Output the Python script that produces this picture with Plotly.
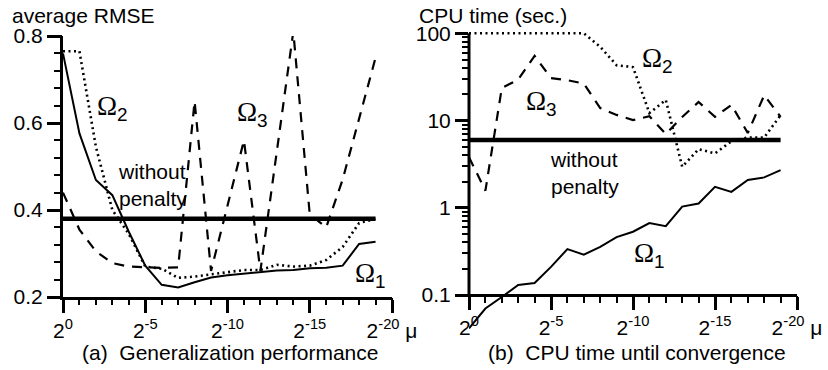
import math
import plotly.graph_objects as go

# ---------------- data ----------------
# x position = exponent magnitude k, where mu = 2^-k
mu_exp = [0, 1, 2, 3, 4, 5, 6, 7, 8, 9, 10, 11, 12, 13, 14, 15, 16, 17, 18, 19]

# (a) generalization performance (average RMSE)
rmse_omega1 = [0.76, 0.576, 0.469, 0.434, 0.35, 0.272, 0.228, 0.222, 0.234, 0.245,
               0.25, 0.254, 0.257, 0.261, 0.262, 0.266, 0.267, 0.272, 0.322, 0.327]
rmse_omega2 = [0.765, 0.765, 0.545, 0.40, 0.345, 0.27, 0.265, 0.244, 0.247, 0.252,
               0.258, 0.262, 0.262, 0.274, 0.27, 0.272, 0.285, 0.315, 0.37, 0.38]
rmse_omega3 = [0.44, 0.355, 0.305, 0.278, 0.27, 0.268, 0.267, 0.268, 0.65, 0.26,
               0.41, 0.56, 0.26, 0.53, 0.81, 0.39, 0.36, 0.47, 0.61, 0.75]
rmse_no_penalty = [0.38] * 20

# (b) CPU time until convergence (sec.)
cpu_omega1 = [0.0414, 0.070, 0.095, 0.130, 0.137, 0.210, 0.336, 0.290, 0.357, 0.461,
              0.531, 0.667, 0.616, 1.03, 1.12, 1.74, 1.52, 2.08, 2.23, 2.70]
cpu_omega2 = [100, 100, 100, 100, 100, 100, 100, 100, 70, 43,
              41, 12.2, 17.2, 2.95, 4.7, 4.2, 5.8, 6.4, 6.4, 11.5]
cpu_omega3 = [3.8, 1.57, 23.6, 29.5, 55, 30.7, 29, 26.5, 13.9, 11.6,
              10.1, 11.2, 7.0, 11, 16.3, 11, 15.1, 7.2, 19.5, 11]
cpu_no_penalty = [6.0] * 20

x_tickvals = [0, 5, 10, 15, 20]
x_ticktext = ["2<sup>0</sup>", "2<sup>-5</sup>", "2<sup>-10</sup>", "2<sup>-15</sup>", "2<sup>-20</sup> μ"]
rmse_tickvals = [0.2, 0.4, 0.6, 0.8]
rmse_ticktext = ["0.2", "0.4", "0.6", "0.8"]
cpu_tickvals = [0.1, 1, 10, 100]
cpu_ticktext = ["0.1", "1", "10", "100"]
cpu_minor = [m * d for d in [0.1, 1, 10] for m in range(2, 10)]

# ---------------- figure ----------------
W, H = 828, 370
SANS = "Liberation Sans, Arial, sans-serif"
FS = 21

def px(xp):
    return xp / W

def py(yp):
    return (H - yp) / H

fig = go.Figure()

solid = dict(color="black", width=2)
dotted = dict(color="black", width=2.6, dash="2px,3.5px")
dashed = dict(color="black", width=2.2, dash="10px,8px")
thick = dict(color="black", width=4.5)

for ys, ln in [(rmse_no_penalty, thick), (rmse_omega3, dashed), (rmse_omega2, dotted), (rmse_omega1, solid)]:
    fig.add_trace(go.Scatter(x=mu_exp, y=ys, mode="lines", line=ln, xaxis="x", yaxis="y",
                             showlegend=False, hoverinfo="skip"))
for ys, ln in [(cpu_no_penalty, thick), (cpu_omega3, dashed), (cpu_omega2, dotted), (cpu_omega1, solid)]:
    fig.add_trace(go.Scatter(x=mu_exp, y=ys, mode="lines", line=ln, xaxis="x2", yaxis="y2",
                             showlegend=False, hoverinfo="skip"))
# empty helper traces so the minor-tick overlay axes get drawn
fig.add_trace(go.Scatter(x=[], y=[], xaxis="x3", yaxis="y3", showlegend=False, hoverinfo="skip"))
fig.add_trace(go.Scatter(x=[], y=[], xaxis="x4", yaxis="y4", showlegend=False, hoverinfo="skip"))

TF = dict(family=SANS, size=FS, color="black")
base = dict(showgrid=False, zeroline=False, automargin=False)

common_x = dict(range=[0, 20], showline=True, linecolor="black",
                linewidth=3, ticks="outside", ticklen=13, tickwidth=2.5, tickcolor="black",
                tickvals=x_tickvals, ticktext=x_ticktext, tickfont=TF, **base)
minor_x = dict(range=[0, 20], showline=False, ticks="outside", ticklen=7, tickwidth=2,
               tickcolor="black", tickmode="linear", tick0=0, dtick=1, showticklabels=False, **base)

# left panel geometry (pixels)
L_x0, L_x1 = 63, 392
L_ytop, L_ybot = 36, 297
# right panel geometry
R_x0, R_x1 = 469, 797
R_y100, R_y01 = 33.3, 295
dec = (R_y01 - R_y100) / 3.0
r_lo, r_hi = -1.45, 2.03
r_ybot = R_y01 + (-1 - r_lo) * dec
r_ytop = R_y100 - (r_hi - 2) * dec

fig.update_layout(
    width=W, height=H, margin=dict(l=0, r=0, t=0, b=0, pad=0, autoexpand=False),
    paper_bgcolor="white", plot_bgcolor="rgba(0,0,0,0)", showlegend=False,
    font=dict(family=SANS, size=FS, color="black"),
    xaxis=dict(domain=[px(L_x0), px(L_x1)], anchor="y", **common_x),
    yaxis=dict(domain=[py(L_ybot), py(L_ytop)], anchor="x", range=[0.2, 0.8],
               showline=True, linecolor="black", linewidth=3,
               ticks="outside", ticklen=13, tickwidth=2.5, tickcolor="black",
               tickvals=rmse_tickvals, ticktext=rmse_ticktext, ticklabelstandoff=0,
               tickfont=TF, **base),
    xaxis3=dict(domain=[px(L_x0), px(L_x1)], anchor="y3", overlaying="x", **minor_x),
    yaxis3=dict(domain=[py(L_ybot), py(L_ytop)], anchor="x3", overlaying="y", range=[0.2, 0.8],
                showline=False, ticks="outside", ticklen=8, tickwidth=2, tickcolor="black",
                tickmode="linear", tick0=0.2, dtick=0.04, showticklabels=False, **base),
    xaxis2=dict(domain=[px(R_x0), px(R_x1)], anchor="free", position=py(R_y01), **common_x),
    yaxis2=dict(domain=[py(r_ybot), py(r_ytop)], anchor="x2", type="log", range=[r_lo, r_hi],
                showline=False,
                ticks="outside", ticklen=13, tickwidth=2.5, tickcolor="black",
                tickvals=cpu_tickvals, ticktext=cpu_ticktext, ticklabelstandoff=0,
                tickfont=TF, **base),
    xaxis4=dict(domain=[px(R_x0), px(R_x1)], anchor="free", position=py(R_y01), overlaying="x2", **minor_x),
    yaxis4=dict(domain=[py(r_ybot), py(r_ytop)], anchor="x4", overlaying="y2", type="log", range=[r_lo, r_hi],
                showline=False, ticks="outside", ticklen=6, tickwidth=1.5, tickcolor="black",
                tickvals=cpu_minor, showticklabels=False, **base),
)

# right y-axis line only from 0.1 to 100
fig.add_shape(type="line", xref="paper", yref="paper", x0=px(R_x0), x1=px(R_x0),
              y0=py(R_y01 + 1.5), y1=py(R_y100), line=dict(color="black", width=3))

def ann(text, xp, yp, xanchor="left", yanchor="middle", size=FS, family=SANS, align="left"):
    fig.add_annotation(text=text, x=px(xp), y=py(yp), xref="paper", yref="paper",
                       xanchor=xanchor, yanchor=yanchor, showarrow=False, align=align,
                       font=dict(family=family, size=size, color="black"))

ann("average RMSE", 10, 15)
ann("CPU time (sec.)", 417, 15)
ann("without<br>penalty", 116, 185)
ann("without<br>penalty", 548, 173)
ann("(a)\u00a0 Generalization performance", 230, 352, xanchor="center")
ann("(b)\u00a0 CPU time until convergence", 637, 352, xanchor="center")

OM = "<span style='font-family:Liberation Serif'>Ω</span><sub>%s</sub>"
ann(OM % "2", 95, 108, size=27)
ann(OM % "3", 235, 114, size=27)
ann(OM % "1", 353, 275, size=27)
ann(OM % "2", 640, 60, size=27)
ann(OM % "3", 524, 103, size=27)
ann(OM % "1", 632, 255, size=27)

fig.write_html("out.html", config={"displayModeBar": False},
               post_script="document.body.style.margin='0px';document.body.style.padding='0px';")
